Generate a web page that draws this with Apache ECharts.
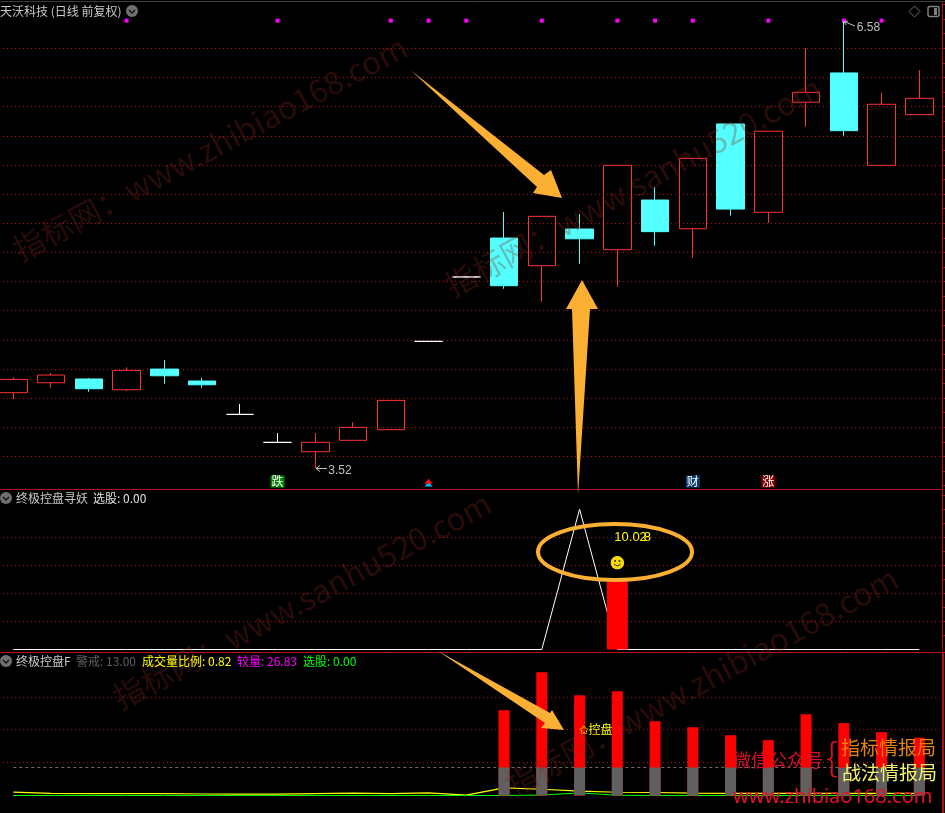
<!DOCTYPE html>
<html>
<head>
<meta charset="utf-8">
<title>天沃科技</title>
<style>
html, body { margin: 0; padding: 0; background: #000; }
#main { width: 945px; height: 813px; }
</style>
<script src="https://cdn.jsdelivr.net/npm/echarts@6/dist/echarts.min.js"></script>
</head>
<body>
<div id="main"></div>
<script>
// K线 (index = day slot)
const opens = [4.037, 4.105, 4.131, 4.057, 4.199, 4.117, 3.888, 3.696, 3.632, 3.71, 3.783, 4.389, 4.831, 5.098, 4.908, 5.16, 5.018, 5.359, 5.162, 5.881, 5.275, 6.03, 6.231, 5.597, 5.945];
const closes = [4.128, 4.158, 4.064, 4.19, 4.153, 4.091, 3.888, 3.696, 3.696, 3.799, 3.984, 4.389, 4.831, 4.771, 5.247, 5.093, 5.597, 5.142, 5.645, 5.297, 5.831, 6.098, 5.835, 6.016, 6.057];
const lows = [3.991, 4.071, 4.043, 4.048, 4.098, 4.071, 3.888, 3.696, 3.518, 3.71, 3.783, 4.389, 4.831, 4.75, 4.661, 4.922, 4.764, 5.045, 4.963, 5.251, 5.203, 5.862, 5.8, 5.597, 5.945];
const highs = [4.142, 4.172, 4.137, 4.211, 4.261, 4.137, 3.959, 3.76, 3.76, 3.835, 3.984, 4.389, 4.831, 5.277, 5.247, 5.263, 5.597, 5.448, 5.645, 5.881, 5.831, 6.402, 6.583, 6.093, 6.251];
const priceGrid = [6.4, 6.2, 6.0, 5.8, 5.6, 5.4, 5.2, 5.0, 4.8, 4.6, 4.4, 4.2, 4.0, 3.8, 3.6];
const priceTicks = [3.4, 3.5, 3.6, 3.7, 3.8, 3.9, 4.0, 4.1, 4.2, 4.3, 4.4, 4.5, 4.6, 4.7, 4.8, 4.9, 5.0, 5.1, 5.2, 5.3, 5.4, 5.5, 5.6, 5.7, 5.8, 5.9, 6.0, 6.1, 6.2, 6.3, 6.4, 6.5, 6.6, 6.7];
const signalDays = [3, 7, 10, 11, 12, 14, 16, 17, 18, 20, 22, 23];

// 终极控盘寻妖
const yaoLine = [0, 0, 0, 0, 0, 0, 0, 0, 0, 0, 0, 0, 0, 0, 0, 10.02, 0, 0, 0, 0, 0, 0, 0, 0, 0];
const yaoBar = [[16, 5]];
const yaoGrid = [8, 6, 4, 2];
const yaoTicks = [1, 2, 3, 4, 5, 6, 7, 8, 9, 10, 11];

// 终极控盘F
const volDays = [13, 14, 15, 16, 17, 18, 19, 20, 21, 22, 23, 24];
const volRatio = [39.6, 57.2, 46.6, 48.4, 34.5, 31.7, 28, 25.7, 37.7, 33.6, 29.4, 26.83];
const warnValue = [13, 13, 13, 13, 13, 13, 13, 13, 13, 13, 13, 13];
const warnLine = [13, 13, 13, 13, 13, 13, 13, 13, 13, 13, 13, 13, 13, 13, 13, 13, 13, 13, 13, 13, 13, 13, 13, 13, 13];
const yellowLine = [1.6, 1, 0.9, 0.9, 0.9, 0.7, 0.6, 0.6, 0.9, 1.1, 0.9, 1.2, 0.2, 3.5, 2.9, 2, 1.5, 1.4, 1.1, 1, 1, 1, 1, 1, 1];
const greenLine = [0, 0, 0, 0, 0, 0, 0, 0, 0, 0, 0, 0, 0, 0, 0.2, 1.2, 0.1, 0, 0, 0, 0, 0, 0, 0, 0];
const volGrid = [45.8, 30.6, 15.3];

const cjk = '"Noto Sans CJK SC", sans-serif';
const latin = '"Liberation Sans", sans-serif';
const red = '#ff3232';
const cyan = '#54ffff';
const orange = '#fbb034';
const axisRed = '#b01010';

const candleData = opens.map((o, i) => [i, o, closes[i], lows[i], highs[i]]);
const pairs = (arr) => arr.map((v, i) => [i, v]);

const dotLine = (values) => ({
  silent: true,
  symbol: "none",
  animation: false,
  z: 1,
  label: { show: false },
  lineStyle: { color: "#b01010", width: 1, type: [1, 3] },
  data: values.map((v) => ({ yAxis: v })),
});

const xAxisBase = (gridIndex) => ({
  type: "value",
  gridIndex,
  min: -0.2728,
  max: 24.614,
  show: false,
});

const yAxisBase = (gridIndex, min, max, ticks, width) => ({
  type: "value",
  gridIndex,
  position: "right",
  min,
  max,
  splitLine: { show: false },
  axisLabel: { show: false },
  axisLine: { show: true, onZero: false, lineStyle: { color: axisRed, width } },
  axisTick: {
    show: ticks.length > 0,
    length: 3,
    customValues: ticks,
    lineStyle: { color: axisRed },
  },
});

// 文字标注, 空心符号
const textMark = (xAxisIndex, yAxisIndex, point, label) => ({
  type: "scatter",
  xAxisIndex,
  yAxisIndex,
  symbolSize: 0,
  itemStyle: { opacity: 1 },
  data: [point],
  z: 6,
  label: Object.assign(
    { show: true, fontFamily: latin, fontSize: 12 },
    label
  ),
});

const smiley =
  "image://data:image/svg+xml;utf8," +
  encodeURIComponent(
    '<svg xmlns="http://www.w3.org/2000/svg" width="14" height="14"><circle cx="7" cy="7" r="6.8" fill="#f5d80e"/><circle cx="4.8" cy="5.3" r="1" fill="#403000"/><circle cx="9.2" cy="5.3" r="1" fill="#403000"/><path d="M3.6 8.2 Q7 12 10.4 8.2" stroke="#403000" fill="none"/></svg>'
  );

const series = [
  {
    type: "candlestick",
    xAxisIndex: 0,
    yAxisIndex: 0,
    barWidth: 28,
    encode: { x: 0, y: [1, 2, 3, 4] },
    data: candleData,
    z: 3,
    itemStyle: {
      color: "transparent",
      color0: cyan,
      borderColor: red,
      borderColor0: cyan,
      borderColorDoji: "#ffffff",
      borderWidth: 1,
    },
  },
  {
    type: "scatter",
    xAxisIndex: 0,
    yAxisIndex: 0,
    symbol: "rect",
    symbolSize: 4,
    itemStyle: { color: "#ff00ff", opacity: 1 },
    data: signalDays.map((d) => [d, 6.59]),
    markLine: dotLine(priceGrid),
    z: 1,
  },
  textMark(0, 0, [22, 6.583], {
    formatter: "6.58",
    position: "right",
    distance: 13,
    offset: [0, 6],
    color: "#c0c0c0",
  }),
  textMark(0, 0, [8, 3.518], {
    formatter: "3.52",
    position: "right",
    distance: 13,
    offset: [0, 2],
    color: "#c0c0c0",
  }),
  textMark(0, 0, [7, 3.427], {
    formatter: "跌",
    position: "inside",
    fontFamily: cjk,
    color: "#ffffff",
    backgroundColor: "#008000",
    padding: [0, 1],
  }),
  textMark(0, 0, [18, 3.427], {
    formatter: "财",
    position: "inside",
    fontFamily: cjk,
    color: "#ffffff",
    backgroundColor: "#0a3a6e",
    padding: [0, 1],
  }),
  textMark(0, 0, [20, 3.427], {
    formatter: "涨",
    position: "inside",
    fontFamily: cjk,
    color: "#ffffff",
    backgroundColor: "#800000",
    padding: [0, 1],
  }),
  {
    type: "scatter",
    xAxisIndex: 0,
    yAxisIndex: 0,
    symbol: "triangle",
    symbolSize: [8, 5],
    itemStyle: { color: "#00b0ff", opacity: 1 },
    data: [[11, 3.41]],
  },
  {
    type: "scatter",
    xAxisIndex: 0,
    yAxisIndex: 0,
    symbol: "triangle",
    symbolSize: [8, 5],
    itemStyle: { color: "#ff1010", opacity: 1 },
    data: [[11, 3.43]],
  },

  // 终极控盘寻妖
  {
    type: "line",
    xAxisIndex: 1,
    yAxisIndex: 1,
    symbol: "none",
    lineStyle: { color: "#ffffff", width: 1 },
    data: pairs(yaoLine),
    markLine: dotLine(yaoGrid),
    z: 2,
  },
  {
    type: "bar",
    xAxisIndex: 1,
    yAxisIndex: 1,
    barWidth: 21,
    itemStyle: { color: "#ff0000" },
    data: yaoBar,
    z: 3,
  },
  textMark(1, 1, [16, 8], {
    formatter: "10.02",
    position: "right",
    distance: -3,
    fontSize: 13,
    color: "#ffff00",
  }),
  textMark(1, 1, [17, 8], {
    formatter: "8",
    position: "left",
    distance: 4,
    fontSize: 13,
    color: "#ffff00",
  }),
  {
    type: "scatter",
    xAxisIndex: 1,
    yAxisIndex: 1,
    symbol: smiley,
    symbolSize: 14,
    itemStyle: { opacity: 1 },
    data: [[16, 6.2]],
    z: 6,
  },

  // 终极控盘F
  {
    type: "line",
    xAxisIndex: 2,
    yAxisIndex: 2,
    symbol: "none",
    lineStyle: { color: "#707070", width: 1, type: [3, 3] },
    data: pairs(warnLine),
    markLine: dotLine(volGrid),
    z: 1,
  },
  {
    type: "line",
    xAxisIndex: 2,
    yAxisIndex: 2,
    symbol: "none",
    lineStyle: { color: "#ffff00", width: 1.2 },
    data: pairs(yellowLine),
    z: 1,
  },
  {
    type: "line",
    xAxisIndex: 2,
    yAxisIndex: 2,
    symbol: "none",
    lineStyle: { color: "#00ff00", width: 1 },
    data: pairs(greenLine),
    z: 1,
  },
  {
    type: "bar",
    xAxisIndex: 2,
    yAxisIndex: 2,
    barWidth: 11,
    barGap: "-100%",
    itemStyle: { color: "#ff0000" },
    data: volRatio.map((v, i) => [volDays[i], v]),
    z: 2,
  },
  {
    type: "bar",
    xAxisIndex: 2,
    yAxisIndex: 2,
    barWidth: 11,
    barGap: "-100%",
    itemStyle: { color: "#606060" },
    data: warnValue.map((v, i) => [volDays[i], v]),
    z: 2,
  },
  textMark(2, 2, [15, 30.8], {
    formatter: "✩控盘",
    position: "right",
    distance: -1,
    fontFamily: cjk,
    color: "#ffff00",
  }),
];

const text = (x, y, str, fill, fontSize, extra) => ({
  type: "text",
  x,
  y,
  z: 20,
  silent: true,
  style: Object.assign(
    {
      text: str,
      fill,
      font: `${fontSize}px ${cjk}`,
      textVerticalAlign: "middle",
    },
    extra
  ),
});

const poly = (points, fill) => ({
  type: "polygon",
  z: 22,
  silent: true,
  shape: { points },
  style: { fill },
});

const hline = (y, x1, x2, stroke) => ({
  type: "line",
  z: 5,
  silent: true,
  shape: { x1, y1: y, x2, y2: y },
  style: { stroke, lineWidth: 1 },
});

const button = (x, y) => [
  {
    type: "circle",
    z: 20,
    silent: true,
    shape: { cx: x, cy: y, r: 6 },
    style: { fill: "#707070" },
  },
  {
    type: "polyline",
    z: 21,
    silent: true,
    shape: { points: [[x - 3, y - 1], [x, y + 2], [x + 3, y - 1]] },
    style: { stroke: "#111", fill: "none", lineWidth: 1.4 },
  },
];

// 价格标注的小箭头
const pointer = (points, head) => [
  {
    type: "polyline",
    z: 21,
    silent: true,
    shape: { points },
    style: { stroke: "#c0c0c0", fill: "none", lineWidth: 1 },
  },
  {
    type: "polyline",
    z: 21,
    silent: true,
    shape: { points: head },
    style: { stroke: "#c0c0c0", fill: "none", lineWidth: 1 },
  },
];

const watermark = (x, y, str, rotation) =>
  Object.assign(text(x, y, str, "rgba(135,40,22,0.3)", 31.5), { rotation });

const marks = [
  hline(1.5, 0, 945, "#3c3c3c"),
  hline(489.5, 0, 943, axisRed),
  hline(652.5, 0, 945, "#c01010"),

  watermark(15, 252, "指标网：www.zhibiao168.com", 0.49),
  watermark(447, 288, "指标网：www.sanhu520.com", 0.5),
  watermark(115, 700, "指标网：www.sanhu520.com", 0.49),
  watermark(508, 787, "指标网：www.zhibiao168.com", 0.5),

  text(0, 11, "天沃科技 (日线 前复权)", "#c8c8c8", 12),
  ...button(132, 11),
  {
    type: "polygon",
    z: 20,
    silent: true,
    shape: { points: [[914.5, 6], [920, 11.5], [914.5, 17], [909, 11.5]] },
    style: { fill: "none", stroke: "#707070" },
  },
  {
    type: "rect",
    z: 20,
    silent: true,
    shape: { x: 928, y: 6.5, width: 11, height: 10, r: 2 },
    style: { fill: "none", stroke: "#808080", lineWidth: 1.5 },
  },
  {
    type: "rect",
    z: 20,
    silent: true,
    shape: { x: 934, y: 8, width: 3, height: 7 },
    style: { fill: "#808080" },
  },
  ...pointer([[844, 21.5], [855, 26]], [[848, 21], [844, 21.5], [846, 25]]),
  ...pointer([[316, 468.5], [327, 468.5]], [[320, 465.5], [316, 468.5], [320, 471.5]]),

  ...button(6, 498),
  text(16, 498, "终极控盘寻妖", "#c8c8c8", 12),
  text(93, 498, "选股: 0.00", "#e0e0e0", 12),

  ...button(6, 661),
  text(16, 661, "终极控盘F", "#c8c8c8", 12),
  text(76, 661, "警戒: 13.00", "#606060", 12),
  text(142, 661, "成交量比例: 0.82", "#ffff00", 12),
  text(237, 661, "较量: 26.83", "#ff00ff", 12),
  text(303, 661, "选股: 0.00", "#00ff00", 12),

  poly(
    [[411, 70.5], [544, 175], [551, 170], [562, 198], [533, 193], [537, 187]],
    orange
  ),
  poly(
    [[582, 280], [598, 309], [590, 309], [578, 495], [572, 309], [566, 309]],
    orange
  ),
  poly(
    [[438, 651], [550, 713], [552, 710], [564, 730], [541, 728], [545, 723]],
    orange
  ),
  {
    type: "ellipse",
    z: 22,
    silent: true,
    shape: { cx: 615, cy: 552, rx: 77, ry: 28 },
    style: { fill: "none", stroke: orange, lineWidth: 4 },
  },

  text(733, 760.5, "微信公众号", "#d8102a", 18),
  text(826, 757, "{", "#d8102a", 38, { font: `200 38px ${cjk}` }),
  text(841, 748, "指标情报局", "#e8820c", 19),
  text(842, 773, "战法情报局", "#f4f46a", 19),
  text(733, 797, "www.zhibiao168.com", "#e8102a", 20, {
    font: '20px "Noto Sans", sans-serif',
  }),
];

const option = {
  backgroundColor: "#000000",
  animation: false,
  grid: [
    { left: 3, top: 3, width: 939.5, height: 486 },
    { left: 3, top: 490, width: 939.5, height: 161 },
    { left: 3, top: 653, width: 939.5, height: 160 },
  ],
  xAxis: [xAxisBase(0), xAxisBase(1), xAxisBase(2)],
  yAxis: [
    yAxisBase(0, 3.376, 6.711, priceTicks, 1),
    yAxisBase(1, -0.107, 11.393, yaoTicks, 1),
    yAxisBase(2, -8.13, 66.17, [], 2),
  ],
  series,
  graphic: marks,
};

const myChart = echarts.init(document.getElementById("main"));
myChart.setOption(option);
</script>
</body>
</html>
